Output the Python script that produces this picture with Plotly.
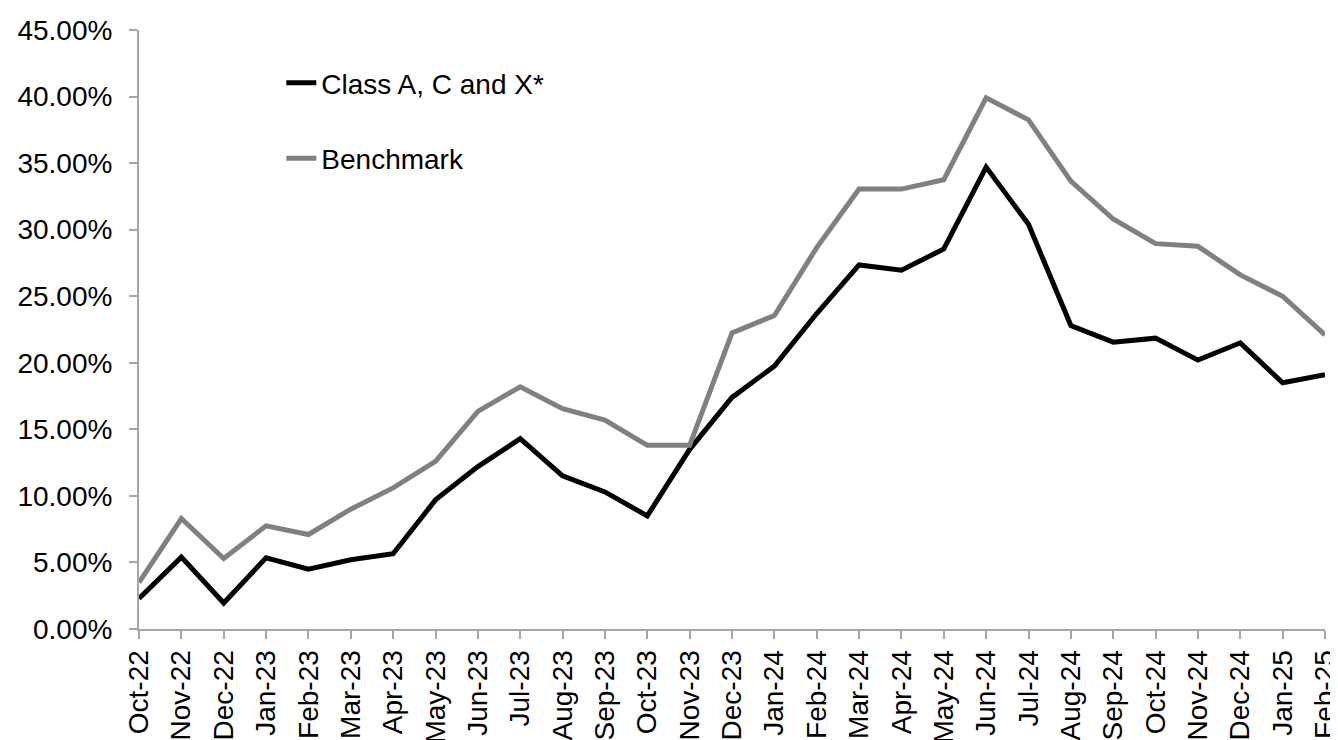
import plotly.graph_objects as go

months = ["Oct-22", "Nov-22", "Dec-22", "Jan-23", "Feb-23", "Mar-23", "Apr-23", "May-23",
          "Jun-23", "Jul-23", "Aug-23", "Sep-23", "Oct-23", "Nov-23", "Dec-23", "Jan-24",
          "Feb-24", "Mar-24", "Apr-24", "May-24", "Jun-24", "Jul-24", "Aug-24", "Sep-24",
          "Oct-24", "Nov-24", "Dec-24", "Jan-25", "Feb-25"]

class_acx = [2.3, 5.4, 1.95, 5.35, 4.5, 5.2, 5.65, 9.7, 12.2, 14.3, 11.5, 10.3, 8.5, 13.5,
             17.4, 19.75, 23.7, 27.35, 26.95, 28.55, 34.7, 30.4, 22.8, 21.55, 21.85, 20.2,
             21.5, 18.5, 19.1]

benchmark = [3.5, 8.3, 5.3, 7.75, 7.1, 9.0, 10.6, 12.6, 16.35, 18.2, 16.55, 15.7, 13.8, 13.8,
             22.25, 23.55, 28.65, 33.05, 33.05, 33.75, 39.9, 38.25, 33.65, 30.8, 28.95, 28.75,
             26.6, 25.0, 22.1]

y_ticks = [0, 5, 10, 15, 20, 25, 30, 35, 40, 45]
y_tick_text = [f"{v:.2f}%" for v in y_ticks]

font = dict(family="Liberation Sans, Arial, sans-serif", size=28, color="black")

fig = go.Figure()
fig.add_trace(go.Scatter(x=months, y=class_acx, mode="lines", name="Class A, C and X*",
                         line=dict(color="black", width=5), legendgroup="a"))
fig.add_trace(go.Scatter(x=months, y=benchmark, mode="lines", name="Benchmark",
                         line=dict(color="#808080", width=5), legendgroup="b"))

fig.update_layout(
    width=1330, height=732,
    margin=dict(l=131, r=13, t=22, b=111, autoexpand=False),
    paper_bgcolor="white", plot_bgcolor="white",
    font=font,
    showlegend=True,
    legend=dict(x=0.12, y=0.953, xanchor="left", yanchor="top",
                bgcolor="rgba(0,0,0,0)", font=font, tracegroupgap=36,
                traceorder="grouped", itemwidth=30),
    xaxis=dict(type="category", range=[0, len(months) - 1], showgrid=False,
               showline=True, linecolor="#a6a6a6", linewidth=2,
               ticks="outside", ticklen=8, tickcolor="#a6a6a6", tickwidth=2,
               tickangle=-90, tickfont=font, automargin=False, zeroline=False),
    yaxis=dict(range=[0, 45], tickvals=y_ticks, ticktext=y_tick_text,
               showgrid=False, showline=True, linecolor="#a6a6a6", linewidth=2,
               ticks="outside", ticklen=8, tickcolor="#a6a6a6", tickwidth=2,
               ticklabelstandoff=11,
               tickfont=font, automargin=False, zeroline=False),
)

fig.write_html("out.html")
